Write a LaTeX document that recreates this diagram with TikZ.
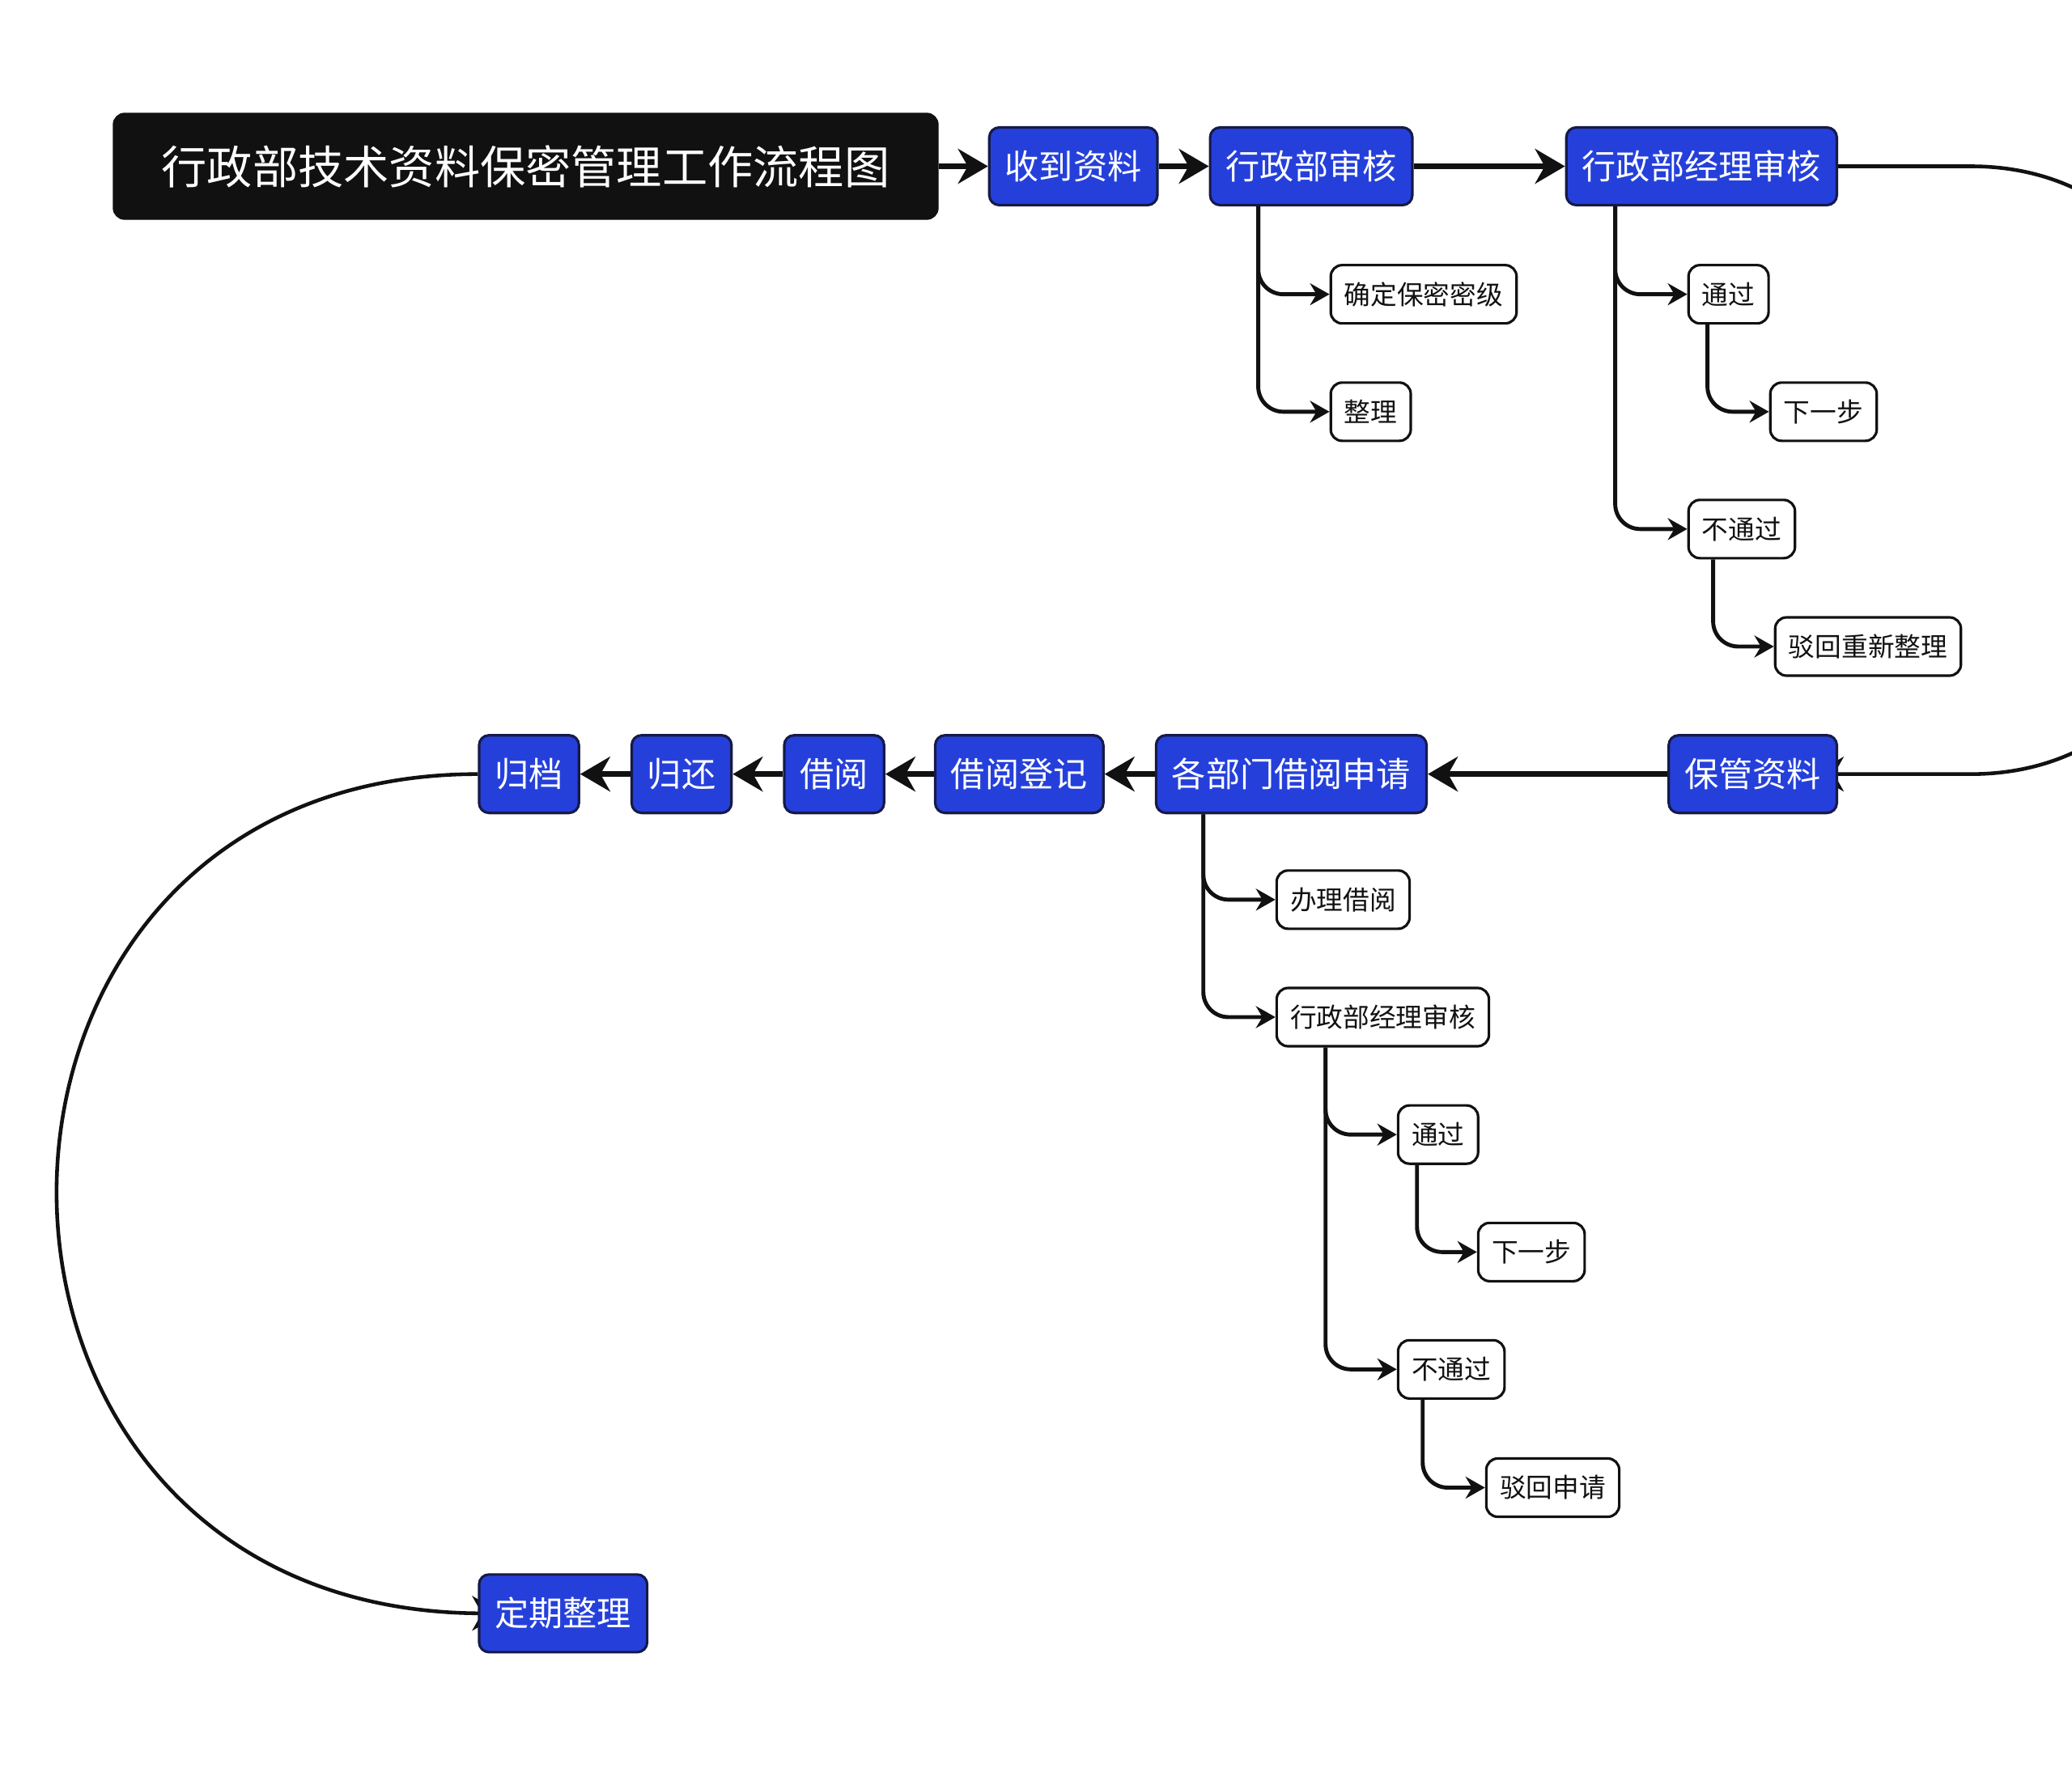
\documentclass[tikz,border=0pt]{standalone}
\usepackage{fontspec}
\setmainfont{Noto Sans CJK SC}
\usepackage{xcolor}
\usepackage{tikz}
\usetikzlibrary{
  arrows.meta,
  positioning,
  backgrounds
}
\pgfdeclarelayer{background}
\pgfsetlayers{background,main}
\definecolor{stepblue}{RGB}{37, 64, 218}
\definecolor{stepedge}{RGB}{22, 26, 72}
\definecolor{titlebg}{RGB}{17, 17, 17}
\definecolor{flowline}{RGB}{17, 17, 17}
\tikzset{
  titleblock/.style = {
    rectangle, rounded corners=4pt,
    draw=titlebg, fill=titlebg, text=white,
    minimum width=10.19cm, minimum height=1.31cm,
    font=\fontsize{16pt}{19pt}\selectfont
  },
  mainblock/.style = {
    rectangle, rounded corners=3.5pt,
    draw=stepedge, line width=0.9pt,
    fill=stepblue, text=white,
    inner xsep=0.195cm, minimum height=0.96cm,
    font=\fontsize{12pt}{14pt}\selectfont
  },
  subblock/.style = {
    rectangle, rounded corners=4pt,
    draw=flowline, line width=0.9pt,
    fill=white, text=flowline,
    inner xsep=0.1675cm, minimum height=0.72cm,
    font=\fontsize{9.3pt}{11pt}\selectfont
  },
  arr/.style    = {-{Stealth[length=0.37cm, width=0.43cm, inset=0.12cm]},
                   draw=flowline, line width=2pt},
  subarr/.style = {-{Stealth[length=0.24cm, width=0.27cm, inset=0.08cm]},
                   draw=flowline, line width=1.4pt, rounded corners=0.31cm},
  curvarr/.style = {-{Stealth[length=0.37cm, width=0.43cm, inset=0.12cm]},
                   draw=flowline, line width=1.3pt, shorten >=-0.3cm},
}

\begin{document}
\begin{tikzpicture}
  \useasboundingbox (0,0) rectangle (25.6,-21.85);

  \node[titleblock] (title) at (6.495,-2.055)
    {行政部技术资料保密管理工作流程图};

  % Top row
  \node[mainblock, right=0.61cm of title] (recv) {收到资料};
  \node[mainblock, right=0.62cm of recv] (audit) {行政部审核};
  \node[mainblock, right=1.87cm of audit] (mgr) {行政部经理审核};

  % Branches of the top row
  \node[subblock, below right=0.71cm and 1.49cm of audit.south west] (secret) {确定保密密级};
  \node[subblock, below right=0.70cm and 0cm of secret.south west] (tidy) {整理};
  \node[subblock, below right=0.71cm and 1.51cm of mgr.south west] (pass1) {通过};
  \node[subblock, below right=0.70cm and 1.01cm of pass1.south west] (next1) {下一步};
  \node[subblock, below right=2.15cm and 0cm of pass1.south west] (fail1) {不通过};
  \node[subblock, below right=0.70cm and 1.07cm of fail1.south west] (reject1) {驳回重新整理};

  % Second row (runs right to left)
  \node[mainblock, below left=6.52cm and 0cm of mgr.south east] (keep) {保管资料};
  \node[mainblock, left=2.96cm of keep] (apply) {各部门借阅申请};
  \node[mainblock, left=0.62cm of apply] (register) {借阅登记};
  \node[mainblock, left=0.60cm of register] (borrow) {借阅};
  \node[mainblock, left=0.62cm of borrow] (giveback) {归还};
  \node[mainblock, left=0.62cm of giveback] (archive) {归档};
  \node[mainblock, below right=9.38cm and 0cm of archive.south west] (periodic) {定期整理};

  % Branches of the second row
  \node[subblock, below right=0.68cm and 1.49cm of apply.south west] (handle) {办理借阅};
  \node[subblock, below right=0.70cm and 0cm of handle.south west] (mgr2) {行政部经理审核};
  \node[subblock, below right=0.70cm and 1.50cm of mgr2.south west] (pass2) {通过};
  \node[subblock, below right=0.70cm and 0.99cm of pass2.south west] (next2) {下一步};
  \node[subblock, below right=2.15cm and 0cm of pass2.south west] (fail2) {不通过};
  \node[subblock, below right=0.71cm and 1.09cm of fail2.south west] (reject2) {驳回申请};

  % Arrows
  \draw[arr] (title) -- (recv);
  \draw[arr] (recv) -- (audit);
  \draw[arr] (audit) -- (mgr);
  \draw[arr] (keep) -- (apply);
  \draw[arr] (apply) -- (register);
  \draw[arr] (register) -- (borrow);
  \draw[arr] (borrow) -- (giveback);
  \draw[arr] (giveback) -- (archive);

  \draw[subarr] ([xshift=0.61cm]audit.south west) |- (secret.west);
  \draw[subarr] ([xshift=0.61cm]audit.south west) |- (tidy.west);
  \draw[subarr] ([xshift=0.62cm]mgr.south west) |- (pass1.west);
  \draw[subarr] ([xshift=0.62cm]mgr.south west) |- (fail1.west);
  \draw[subarr] ([xshift=0.25cm]pass1.south west) |- (next1.west);
  \draw[subarr] ([xshift=0.32cm]fail1.south west) |- (reject1.west);

  \draw[subarr] ([xshift=0.60cm]apply.south west) |- (handle.west);
  \draw[subarr] ([xshift=0.60cm]apply.south west) |- (mgr2.west);
  \draw[subarr] ([xshift=0.62cm]mgr2.south west) |- (pass2.west);
  \draw[subarr] ([xshift=0.62cm]mgr2.south west) |- (fail2.west);
  \draw[subarr] ([xshift=0.25cm]pass2.south west) |- (next2.west);
  \draw[subarr] ([xshift=0.32cm]fail2.south west) |- (reject2.west);

  \begin{scope}[on background layer]
    \draw[curvarr] (mgr.east) -- ++(1.64,0)
      .. controls +(4.22,0) and +(4.22,0) .. ([xshift=1.64cm]keep.east)
      -- (keep.east);
    \draw[curvarr] (archive.west)
      .. controls +(-6.95,0) and +(-6.95,0) .. (periodic.west);
  \end{scope}

\end{tikzpicture}
\end{document}
